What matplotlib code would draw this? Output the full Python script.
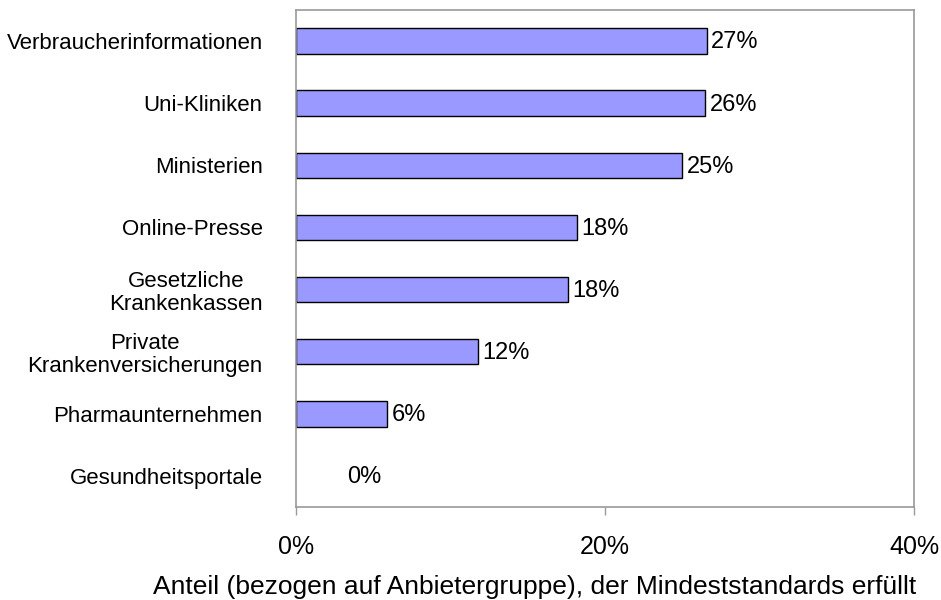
import matplotlib
matplotlib.use("Agg")
import matplotlib.pyplot as plt

# Anbietergruppen und Anteile (in %)
categories = ["Verbraucherinformationen", "Uni-Kliniken", "Ministerien", "Online-Presse",
              "Gesetzliche\nKrankenkassen", "Private\nKrankenversicherungen",
              "Pharmaunternehmen", "Gesundheitsportale"]
values = [26.6, 26.5, 25.0, 18.2, 17.6, 11.8, 5.9, 0.0]
value_labels = ["27%", "26%", "25%", "18%", "18%", "12%", "6%", "0%"]
xticks = [0, 20, 40]
xtick_labels = ["0%", "20%", "40%"]

plt.rcParams['font.family'] = ['Liberation Sans', 'DejaVu Sans']

fig = plt.figure(figsize=(9.41, 6), dpi=100)
ax = fig.add_axes([0.3146, 0.155, 0.6567, 0.8283])

ypos = list(range(len(categories)))
widths = [1 if v > 0 else 0 for v in values]
ax.barh(ypos, values, height=0.41, color="#9999FF", edgecolor="black", linewidth=widths)

for y, v, lab in zip(ypos, values, value_labels):
    # Excel setzt das Label der Null-Leiste weiter nach rechts
    off = 37 if v == 0 else 3
    ax.annotate(lab, (v, y), xytext=(off, -1), textcoords="offset points",
                va="center", ha="left", fontsize=17)

ax.set_xlim(0, 40)
ax.set_ylim(len(categories) - 0.5, -0.5)
ax.set_xticks(xticks)
ax.set_xticklabels(xtick_labels, fontsize=18)
ax.set_yticks(ypos)
ax.set_yticklabels(categories, fontsize=16, multialignment="center", linespacing=1.1)
ax.tick_params(axis="y", length=0, pad=24)
ax.tick_params(axis="x", length=6, width=1, color="#999999", direction="out", pad=14)

for s in ax.spines.values():
    s.set_color("#999999")
    s.set_linewidth(1.2)

# Achsentitel wie im Original etwas nach links versetzt
fig.text(535 / 941, 1 - 587 / 600,
         "Anteil (bezogen auf Anbietergruppe), der Mindeststandards erfüllt",
         fontsize=19, ha="center", va="center")

fig.savefig("out.png", dpi=100)
